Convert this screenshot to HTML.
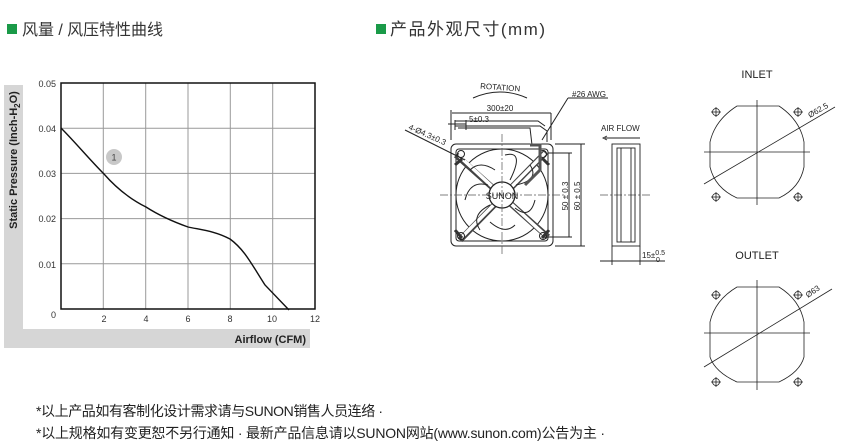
<!DOCTYPE html>
<html><head><meta charset="utf-8"><style>
html,body{margin:0;padding:0;background:#fff;width:843px;height:447px;overflow:hidden}
svg{display:block}
.c{font-family:"Liberation Sans","Noto Sans CJK SC",sans-serif}
</style></head><body>
<svg width="843" height="447" viewBox="0 0 843 447" xmlns="http://www.w3.org/2000/svg" class="c">
<!-- headers -->
<rect x="7" y="24" width="10" height="10" fill="#1a9a48"/>
<text x="22" y="35" font-size="16" fill="#333" textLength="141" lengthAdjust="spacing">风量 / 风压特性曲线</text>
<rect x="376" y="24" width="10" height="10" fill="#1a9a48"/>
<text x="390" y="35" font-size="17" fill="#333" textLength="155" lengthAdjust="spacing">产品外观尺寸(mm)</text>

<!-- chart gray bands -->
<rect x="4" y="85" width="19" height="263" fill="#d6d6d6"/>
<rect x="4" y="329" width="306" height="19" fill="#d6d6d6"/>
<text x="306" y="343" font-size="11" font-weight="bold" text-anchor="end" fill="#222">Airflow (CFM)</text>
<text transform="translate(17,160) rotate(-90)" font-size="11" font-weight="bold" text-anchor="middle" fill="#222">Static Pressure (Inch-H<tspan font-size="8" dy="3">2</tspan><tspan dy="-3">O)</tspan></text>

<!-- grid -->
<g stroke="#999" stroke-width="1">
<line x1="103.3" y1="83" x2="103.3" y2="309"/><line x1="145.7" y1="83" x2="145.7" y2="309"/>
<line x1="188" y1="83" x2="188" y2="309"/><line x1="230.3" y1="83" x2="230.3" y2="309"/>
<line x1="272.7" y1="83" x2="272.7" y2="309"/>
<line x1="61" y1="128.2" x2="315" y2="128.2"/><line x1="61" y1="173.4" x2="315" y2="173.4"/>
<line x1="61" y1="218.6" x2="315" y2="218.6"/><line x1="61" y1="263.8" x2="315" y2="263.8"/>
</g>
<rect x="61" y="83" width="254" height="226" fill="none" stroke="#111" stroke-width="1.5"/>
<g font-size="9" fill="#333">
<text x="56" y="87" text-anchor="end">0.05</text><text x="56" y="132" text-anchor="end">0.04</text>
<text x="56" y="177" text-anchor="end">0.03</text><text x="56" y="222" text-anchor="end">0.02</text>
<text x="56" y="268" text-anchor="end">0.01</text><text x="56" y="318" text-anchor="end">0</text>
<text x="104" y="322" text-anchor="middle">2</text><text x="146" y="322" text-anchor="middle">4</text>
<text x="188" y="322" text-anchor="middle">6</text><text x="230" y="322" text-anchor="middle">8</text>
<text x="272" y="322" text-anchor="middle">10</text><text x="315" y="322" text-anchor="middle">12</text>
</g>
<path d="M61,128 C75,142 90,160 104,174 C118,190 132,200 146,207 C160,216 174,222 188,227 C202,230 215,231 230,239 C245,250 252,265 265,285 L289,310" fill="none" stroke="#111" stroke-width="1.4"/>
<circle cx="114" cy="157" r="8" fill="#c8c8c8"/>
<text x="114" y="160.5" font-size="9" text-anchor="middle" fill="#444">1</text>

<!-- fan front view -->
<g stroke="#222" fill="none" stroke-width="1">
<path d="M473,98 Q500,86 527,98"/>
<rect x="451" y="144" width="102" height="102" rx="5"/>
<rect x="456" y="149" width="92" height="92" rx="3"/>
<circle cx="502" cy="195" r="46"/>
<line x1="456" y1="155" x2="548" y2="237" stroke-width="6" stroke="#444"/>
<line x1="458" y1="155" x2="546" y2="236" stroke-width="3.5" stroke="#fff"/>
<line x1="460" y1="240" x2="546" y2="152" stroke-width="6" stroke="#444"/>
<line x1="461" y1="238" x2="545" y2="153" stroke-width="3.5" stroke="#fff"/>
<circle cx="502" cy="195" r="13" fill="#fff" stroke="#222" stroke-width="1.3"/>
<path d="M470,170 Q480,160 495,170 M465,200 Q470,180 488,185 M480,230 Q470,215 490,205 M515,225 Q505,235 490,222 M535,200 Q530,220 515,208 M530,165 Q540,180 516,185 M505,155 Q525,150 510,180"/>
<circle cx="461" cy="154" r="3.5"/><circle cx="543" cy="154" r="3.5"/><circle cx="461" cy="236" r="3.5"/><circle cx="543" cy="236" r="3.5"/>
<path d="M455,165 L462,159 M455,230 L462,238 M542,158 L549,165 M542,238 L549,230" stroke-width="3" stroke="#333"/>
<path d="M455,126 L540,126 L547,131 L547,142 M455,121 L538,121 L545,126 M458,128 L530,128 L532,145"/>
<path d="M530,145 L540,145 L540,170 L525,185" stroke-width="3" stroke="#555"/>
<line x1="452" y1="113" x2="551" y2="113"/><line x1="451" y1="110" x2="451" y2="140"/><line x1="551" y1="113" x2="551" y2="140"/>
<line x1="448" y1="124" x2="466" y2="124"/><line x1="455" y1="120" x2="455" y2="130"/><line x1="466" y1="120" x2="466" y2="130"/>
<line x1="568" y1="98" x2="542" y2="140"/><line x1="568" y1="98" x2="608" y2="98"/>
<line x1="405" y1="130" x2="465" y2="160"/>
<line x1="555" y1="144" x2="585" y2="144"/><line x1="555" y1="246" x2="585" y2="246"/>
<line x1="581" y1="144" x2="581" y2="246"/>
<line x1="548" y1="153" x2="572" y2="153"/><line x1="548" y1="237" x2="572" y2="237"/>
<line x1="569" y1="153" x2="569" y2="237"/>
</g>
<g stroke="#555" stroke-width="0.7" stroke-dasharray="8,2,2,2" fill="none">
<line x1="440" y1="195" x2="565" y2="195"/><line x1="502" y1="134" x2="502" y2="256"/>
<line x1="600" y1="195" x2="650" y2="195"/>
</g>
<text x="502" y="199" font-size="9" text-anchor="middle" fill="#222">SUNON</text>
<g font-size="8" fill="#222">
<text x="500" y="90" text-anchor="middle" transform="rotate(4 500 90)">ROTATION</text>
<text x="500" y="111" text-anchor="middle">300±20</text>
<text x="479" y="122" text-anchor="middle">5±0.3</text>
<text x="572" y="97">#26 AWG</text>
<text x="408" y="129" transform="rotate(24 408 129)">4-Ø4.3±0.3</text>
<text transform="translate(568,196) rotate(-90)" text-anchor="middle">50 ± 0.3</text>
<text transform="translate(580,196) rotate(-90)" text-anchor="middle">60 ± 0.5</text>
<text x="601" y="131">AIR FLOW</text>
<text x="642" y="258">15±<tspan font-size="7" dy="-3">0.5</tspan></text>
<text x="656" y="262" font-size="7">0</text>
</g>
<!-- side view -->
<g stroke="#222" fill="none" stroke-width="0.9">
<path d="M605,138 L640,138 M607,136 L603,138 L607,140"/>
<rect x="612" y="144" width="28" height="102"/>
<rect x="617" y="148" width="18" height="94"/>
<line x1="621" y1="148" x2="621" y2="242"/><line x1="631" y1="148" x2="631" y2="242"/>
<line x1="612" y1="246" x2="612" y2="265"/><line x1="640" y1="246" x2="640" y2="265"/>
<line x1="600" y1="261" x2="665" y2="261"/>
</g>

<!-- inlet -->
<text x="757" y="78" font-size="11" text-anchor="middle" fill="#222">INLET</text>
<g stroke="#222" fill="none" stroke-width="0.8">
<path d="M737,106 L779,106 Q800,120 804,142 L804,167 Q800,188 779,198 L737,198 Q715,188 710,167 L710,142 Q715,120 737,106 Z"/>
<line x1="757" y1="100" x2="757" y2="205"/><line x1="704" y1="152" x2="810" y2="152"/>
<line x1="704" y1="184" x2="835" y2="107"/>
<g id="ph"><circle cx="716" cy="112" r="3.5"/><line x1="711" y1="112" x2="721" y2="112"/><line x1="716" y1="107" x2="716" y2="117"/></g>
<use href="#ph" x="82"/><use href="#ph" y="85"/><use href="#ph" x="82" y="85"/>
</g>
<text x="810" y="118" font-size="8" fill="#222" transform="rotate(-30 810 118)">Ø62.5</text>
<!-- outlet -->
<text x="757" y="259" font-size="11" text-anchor="middle" fill="#222">OUTLET</text>
<g stroke="#222" fill="none" stroke-width="0.8">
<path d="M737,287 L779,287 Q800,300 804,322 L804,357 Q800,372 779,382 L737,382 Q715,372 710,357 L710,322 Q715,300 737,287 Z"/>
<line x1="757" y1="280" x2="757" y2="390"/><line x1="704" y1="333" x2="810" y2="333"/>
<line x1="704" y1="367" x2="832" y2="289"/>
<use href="#ph" y="183"/><use href="#ph" x="82" y="183"/><use href="#ph" y="270"/><use href="#ph" x="82" y="270"/>
</g>
<text x="808" y="298" font-size="8" fill="#222" transform="rotate(-35 808 298)">Ø63</text>

<!-- footer -->
<text x="36" y="416" font-size="14" fill="#222" textLength="347" lengthAdjust="spacing">*以上产品如有客制化设计需求请与SUNON销售人员连络 ·</text>
<text x="36" y="438" font-size="14" fill="#222" textLength="569" lengthAdjust="spacing">*以上规格如有变更恕不另行通知 · 最新产品信息请以SUNON网站(www.sunon.com)公告为主 ·</text>
</svg>
</body></html>
